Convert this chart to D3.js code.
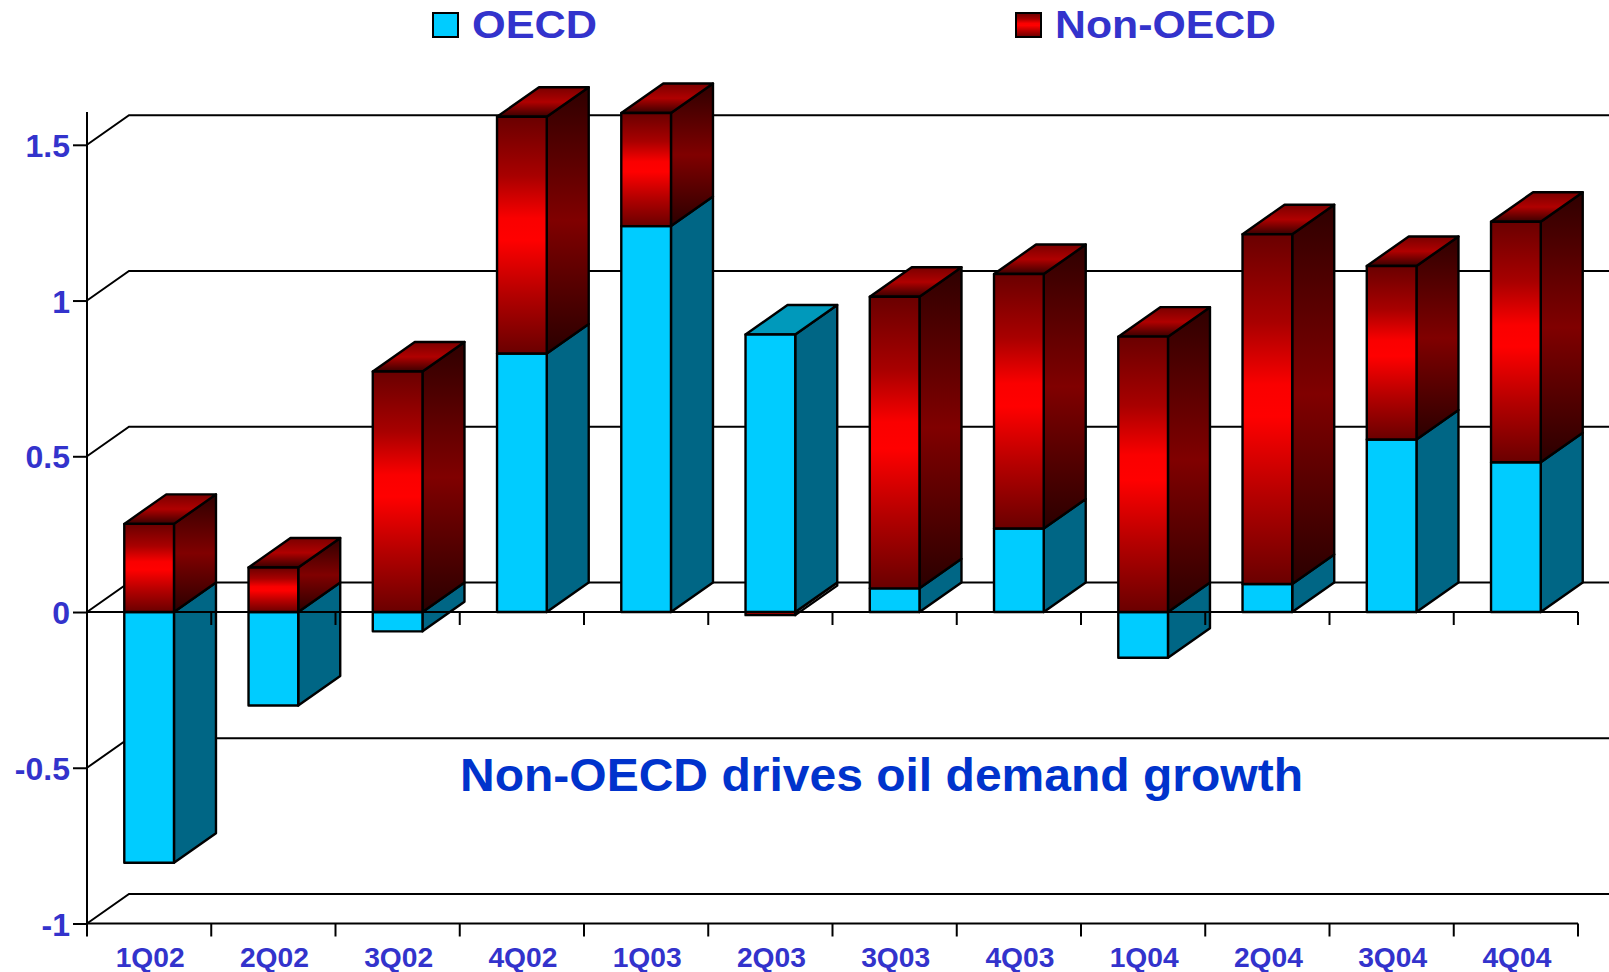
<!DOCTYPE html>
<html><head><meta charset="utf-8">
<style>html,body{margin:0;padding:0;background:#fff}svg{display:block}text{font-family:"Liberation Sans",Arial,sans-serif;font-weight:bold}</style>
<script src="https://cdn.jsdelivr.net/npm/d3@7"></script></head>
<body><svg id="c" width="1609" height="972"></svg>
<script>
const categories=["1Q02","2Q02","3Q02","4Q02","1Q03","2Q03","3Q03","4Q03","1Q04","2Q04","3Q04","4Q04"];
const oecd=[-0.805,-0.30,-0.062,0.83,1.239,0.891,0.076,0.268,-0.147,0.09,0.554,0.481];
const nonOecd=[0.283,0.143,0.772,0.76,0.363,-0.01,0.936,0.817,0.884,1.123,0.557,0.772];
const yTicks=[-1,-0.5,0,0.5,1,1.5];
const seriesNames=["OECD","Non-OECD"];
const note="Non-OECD drives oil demand growth";

const svg=d3.select("#c");
const dx=42,dy=-29.5;
const y=d3.scaleLinear().domain([-1,1.5]).range([923.5,144.8]);
const x=d3.scaleBand().domain(categories).range([87,1578]).paddingInner(0.6).paddingOuter(0.3);
const rows=categories.map((c,i)=>({c,OECD:oecd[i],"Non-OECD":nonOecd[i]}));
const stacked=d3.stack().keys(seriesNames).offset(d3.stackOffsetDiverging)(rows);

// gradients
const defs=svg.append("defs");
function grad(id,stops){
  const g=defs.append("linearGradient").attr("id",id).attr("x1",0).attr("y1",0).attr("x2",0).attr("y2",1);
  stops.forEach(([o,c])=>g.append("stop").attr("offset",o).attr("stop-color",c));
}
grad("redFront",[[0,"#6a0000"],[0.25,"#a80000"],[0.43,"#fa0000"],[0.52,"#ff0000"],[0.75,"#b40000"],[1,"#6a0000"]]);
grad("redSide",[[0,"#2e0000"],[0.5,"#800000"],[1,"#2a0000"]]);
grad("redTop",[[0,"#7a0000"],[0.5,"#b00000"],[1,"#3a0000"]]);
const faces={OECD:{front:"#00ccff",side:"#006685",top:"#0099bb"},
  "Non-OECD":{front:"url(#redFront)",side:"url(#redSide)",top:"url(#redTop)"}};

// back wall gridlines with their left-hand diagonals
const grid=svg.append("g").attr("fill","none").attr("stroke","#000").attr("stroke-width",2);
grid.selectAll("path").data(yTicks).join("path")
  .attr("d",v=>`M${x.range()[0]},${y(v)}L${x.range()[0]+dx},${y(v)+dy}L1609,${y(v)+dy}`);

// bottom axis with ticks on category boundaries
const gap=x.step()*x.paddingInner()/2;
const bounds=[x(categories[0])-gap].concat(categories.map(c=>x(c)+x.bandwidth()+gap));
function boundaryAxis(v,len){
  const g=svg.append("g").attr("stroke","#000").attr("stroke-width",2);
  g.append("line").attr("x1",bounds[0]).attr("x2",bounds[12]).attr("y1",y(v)).attr("y2",y(v));
  g.selectAll("line.t").data(bounds).join("line").attr("class","t")
    .attr("x1",d=>d).attr("x2",d=>d).attr("y1",y(v)).attr("y2",y(v)+len);
}
boundaryAxis(-1,13);

// bars
const barsG=svg.append("g").attr("stroke","#000").attr("stroke-width",2.4).attr("stroke-linejoin","round");
categories.forEach((c,i)=>{
  const bx=x(c),w=x.bandwidth();
  const segs=stacked.map(s=>({key:s.key,a:s[i][0],b:s[i][1]}));
  const topKey=segs.slice().filter(s=>s.b>0).sort((p,q)=>q.b-p.b)[0].key;
  segs.slice().sort((p,q)=>p.a-q.a).forEach(s=>{
    const f=faces[s.key],t=y(s.b),b=y(s.a);
    const negRed=s.key==="Non-OECD"&&s.b<=0;
    barsG.append("polygon").attr("fill",negRed?"#fff":f.side)
      .attr("points",[[bx+w,t],[bx+w+dx,t+dy],[bx+w+dx,b+dy],[bx+w,b]].join(" "));
    if(s.key===topKey) barsG.append("polygon").attr("fill",f.top)
      .attr("points",[[bx,t],[bx+dx,t+dy],[bx+w+dx,t+dy],[bx+w,t]].join(" "));
    barsG.append("rect").attr("x",bx).attr("y",t).attr("width",w).attr("height",Math.max(b-t,0.5)).attr("fill",f.front);
  });
});

// zero line and left axis are drawn over the bars
boundaryAxis(0,13);
const yAxis=d3.axisLeft(y).tickValues(yTicks).tickSize(14).tickSizeOuter(0).tickPadding(3).tickFormat(d=>String(d));
const yg=svg.append("g").attr("transform","translate(87,0)").call(yAxis);
yg.select(".domain").remove();
yg.selectAll("line").attr("stroke","#000").attr("stroke-width",2);
yg.selectAll("text").attr("font-size",32).attr("fill","#3333cc").attr("font-family",'"Liberation Sans",Arial,sans-serif').attr("font-weight","bold").attr("dy","0.36em");
svg.append("line").attr("x1",87).attr("x2",87).attr("y1",112).attr("y2",936).attr("stroke","#000").attr("stroke-width",2);

// category labels
svg.append("g").selectAll("text").data(categories).join("text")
  .attr("x",c=>x(c)+x.bandwidth()/2+1).attr("y",967).attr("text-anchor","middle")
  .attr("font-size",27).attr("fill","#3333cc").attr("textLength",69).attr("lengthAdjust","spacingAndGlyphs").text(c=>c);

// legend
const legendPos=[{sx:433,tx:472,len:125},{sx:1016,tx:1055,len:221}];
seriesNames.forEach((n,i)=>{
  const p=legendPos[i];
  svg.append("rect").attr("x",p.sx).attr("y",13).attr("width",25).attr("height",24)
    .attr("fill",faces[n].front).attr("stroke","#000").attr("stroke-width",2);
  svg.append("text").attr("x",p.tx).attr("y",38).attr("font-size",38).attr("fill","#3333cc")
    .attr("textLength",p.len).attr("lengthAdjust","spacingAndGlyphs").text(n);
});

// annotation
svg.append("text").attr("x",460).attr("y",791).attr("font-size",47).attr("fill","#0033cc")
  .attr("textLength",843).attr("lengthAdjust","spacingAndGlyphs").text(note);
</script></body></html>
